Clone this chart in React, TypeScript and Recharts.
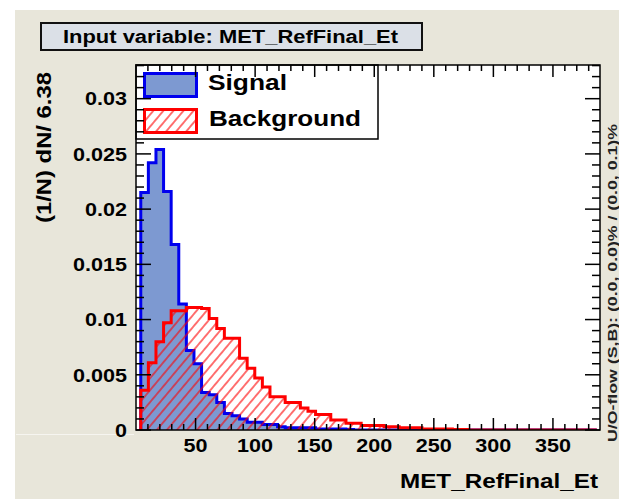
import { AreaChart, Area, XAxis, YAxis, ReferenceArea } from "recharts"

const FONT = '"Liberation Sans", Arial, Helvetica, sans-serif'
const CANVAS_BG = "#e8e6da"
const TITLE_BG = "#dbe0e7"
const SIG_FILL = "#7d99d1"
const SIG_LINE = "#0000ee"
const BKG_LINE = "#ff0000"

// MET_RefFinal_Et binning (60 bins of 6.38)
const BIN_START = 4
const BIN_WIDTH = 6.38
const X_MAX = 389.5
const Y_MAX = 0.03305

// normalised signal histogram, (1/N) dN / 6.38
const SIGNAL = [
  0.0215, 0.0242, 0.0254, 0.0216, 0.0168, 0.0114, 0.0072, 0.006, 0.0034, 0.0032,
  0.0025, 0.0015, 0.0013, 0.001, 0.0007, 0.0007, 0.0005, 0.0005, 0.0003, 0.0002,
  0.0002, 0.0002, 0.0002, 0.0001, 0.0001, 0.0001, 0.0001, 0.00005, 0, 0,
  0, 0, 0, 0, 0, 0, 0, 0, 0, 0,
  0, 0, 0, 0, 0, 0, 0, 0, 0, 0,
  0, 0, 0, 0, 0, 0, 0, 0, 0, 0,
]

// normalised background histogram
const BACKGROUND = [
  0.0036, 0.0061, 0.008, 0.0097, 0.0108, 0.0108, 0.0111, 0.0111, 0.011, 0.0101,
  0.0092, 0.0083, 0.0083, 0.0065, 0.0056, 0.0047, 0.0039, 0.003, 0.003, 0.0025,
  0.0025, 0.002, 0.0017, 0.0014, 0.0014, 0.0009, 0.0009, 0.0006, 0.0006, 0.0004,
  0.0004, 0.0004, 0.0003, 0.0003, 0.0002, 0.0002, 0.0002, 0.0001, 0.0001, 0.0001,
  0.0001, 0.00005, 0.00005, 0, 0, 0, 0, 0, 0, 0,
  0, 0, 0, 0, 0, 0, 0, 0, 0, 0,
]

const X_LABELS = [50, 100, 150, 200, 250, 300, 350]
const Y_LABELS = [0, 0.005, 0.01, 0.015, 0.02, 0.025, 0.03]

// minor ticks: every 10 on x, every 0.001 on y
const X_TICKS = Array.from({ length: 38 }, (_, i) => (i + 1) * 10)
const Y_TICKS = Array.from({ length: 34 }, (_, i) => i / 1000)

const PLOT = { left: 136, right: 600, top: 65, bottom: 430 }

// step outline closes down to zero at both ends of the histogram
const binEnd = BIN_START + SIGNAL.length * BIN_WIDTH
const data = [
  { x: BIN_START, sig: 0, bkg: 0 },
  ...SIGNAL.map((s, i) => ({ x: BIN_START + i * BIN_WIDTH, sig: s, bkg: BACKGROUND[i] })),
  { x: binEnd, sig: SIGNAL[SIGNAL.length - 1], bkg: BACKGROUND[BACKGROUND.length - 1] },
  { x: binEnd, sig: 0, bkg: 0 },
]

const labelWidth = (s: string) => s.replace(".", "").length * 12 + (s.includes(".") ? 6 : 0)

const labelStyle = { fontFamily: FONT, fontWeight: 700, fontSize: 19, fill: "#000" }

function XTick(props: any) {
  const { x, payload } = props
  const v = payload.value as number
  const major = X_LABELS.includes(v)
  const len = major ? 12 : 6
  const txt = String(v)
  return (
    <g>
      <line x1={x} x2={x} y1={PLOT.bottom} y2={PLOT.bottom - len} stroke="#000" strokeWidth={1.5} />
      <line x1={x} x2={x} y1={PLOT.top} y2={PLOT.top + len} stroke="#000" strokeWidth={1.5} />
      {major && (
        <text x={x} y={451.5} textAnchor="middle" textLength={labelWidth(txt)} lengthAdjust="spacingAndGlyphs" style={labelStyle}>
          {txt}
        </text>
      )}
    </g>
  )
}

function YTick(props: any) {
  const { y, payload } = props
  const v = payload.value as number
  const major = Y_LABELS.includes(v)
  const len = major ? 15 : 8
  const txt = v === 0 ? "0" : String(Number(v.toFixed(3)))
  return (
    <g>
      <line x1={PLOT.left} x2={PLOT.left + len} y1={y} y2={y} stroke="#000" strokeWidth={1.5} />
      <line x1={PLOT.right} x2={PLOT.right - len} y1={y} y2={y} stroke="#000" strokeWidth={1.5} />
      {major && (
        <text x={127} y={y + 6.8} textAnchor="end" textLength={labelWidth(txt)} lengthAdjust="spacingAndGlyphs" style={labelStyle}>
          {txt}
        </text>
      )}
    </g>
  )
}

export default function App() {
  return (
    <div style={{ position: "absolute", left: 0, top: 0, width: 619, height: 499, background: "#fff", overflow: "hidden" }}>
      <div style={{ position: "absolute", left: 15, top: 10, width: 604, height: 489, background: CANVAS_BG }} />
      <div
        style={{
          position: "absolute",
          left: 40,
          top: 22,
          width: 383,
          height: 29,
          boxSizing: "border-box",
          border: "2px solid #111",
          background: TITLE_BG,
        }}
      />
      <div
        style={{
          position: "absolute",
          left: PLOT.left,
          top: PLOT.top,
          width: PLOT.right - PLOT.left,
          height: PLOT.bottom - PLOT.top,
          background: "#fff",
        }}
      />
      <div style={{ position: "absolute", left: 0, top: 0 }}>
        <AreaChart width={619} height={499} data={data} margin={{ top: 65, right: 19, bottom: 39, left: 96 }}>
          <defs>
            <pattern id="bkgHatch" patternUnits="userSpaceOnUse" width={7.7} height={7.7} patternTransform="rotate(40)">
              <line x1={3.85} y1={0} x2={3.85} y2={7.7} stroke={BKG_LINE} strokeWidth={1.1} />
            </pattern>
          </defs>
          <XAxis
            dataKey="x"
            type="number"
            domain={[0, X_MAX]}
            allowDataOverflow
            ticks={X_TICKS}
            interval={0}
            height={30}
            tickSize={0}
            tickMargin={0}
            axisLine={false}
            tick={(p: any) => <XTick {...p} />}
          />
          <YAxis
            type="number"
            domain={[0, Y_MAX]}
            allowDataOverflow
            ticks={Y_TICKS}
            interval={0}
            width={40}
            tickSize={0}
            tickMargin={0}
            axisLine={false}
            tick={(p: any) => <YTick {...p} />}
          />
          <Area
            type="stepAfter"
            dataKey="sig"
            baseValue={0}
            stroke={SIG_LINE}
            strokeWidth={3}
            fill={SIG_FILL}
            fillOpacity={1}
            dot={false}
            activeDot={false}
            isAnimationActive={false}
          />
          <Area
            type="stepAfter"
            dataKey="bkg"
            baseValue={0}
            stroke={BKG_LINE}
            strokeWidth={3}
            fill="url(#bkgHatch)"
            fillOpacity={1}
            dot={false}
            activeDot={false}
            isAnimationActive={false}
          />
          <ReferenceArea x1={0} x2={X_MAX} y1={0} y2={Y_MAX} fill="none" stroke="#000" strokeWidth={1.5} ifOverflow="visible" />

          {/* legend */}
          <g>
            <rect x={136} y={65} width={242} height={74} fill="#fff" stroke="#000" strokeWidth={1.5} />
            <rect x={144.5} y={73.5} width={52} height={23} fill={SIG_FILL} stroke={SIG_LINE} strokeWidth={3} />
            <rect x={144.5} y={109.5} width={52} height={23} fill="#fff" />
            <rect x={144.5} y={109.5} width={52} height={23} fill="url(#bkgHatch)" stroke={BKG_LINE} strokeWidth={3} />
            <text x={208} y={90} textLength={79} lengthAdjust="spacingAndGlyphs" style={{ ...labelStyle, fontSize: 22 }}>
              Signal
            </text>
            <text x={209} y={126} textLength={152} lengthAdjust="spacingAndGlyphs" style={{ ...labelStyle, fontSize: 22 }}>
              Background
            </text>
          </g>

          {/* titles */}
          <text x={63} y={42.5} textLength={335} lengthAdjust="spacingAndGlyphs" style={{ ...labelStyle, fontSize: 18 }}>
            Input variable: MET_RefFinal_Et
          </text>
          <text x={598} y={488} textAnchor="end" textLength={198} lengthAdjust="spacingAndGlyphs" style={{ ...labelStyle, fontSize: 21 }}>
            MET_RefFinal_Et
          </text>
          <text
            transform="translate(51,72) rotate(-90)"
            textAnchor="end"
            textLength={151}
            lengthAdjust="spacingAndGlyphs"
            style={{ ...labelStyle, fontSize: 20 }}
          >
            (1/N) dN/ 6.38
          </text>
          <text
            transform="translate(617,442) rotate(-90)"
            textLength={318}
            lengthAdjust="spacingAndGlyphs"
            style={{ ...labelStyle, fontSize: 12, fill: "#222" }}
          >
            U/O-flow (S,B): (0.0, 0.0)% / (0.0, 0.1)%
          </text>
          <line x1={16} x2={134} y1={434.5} y2={434.5} stroke="#f6f5f0" strokeWidth={1} />
        </AreaChart>
      </div>
    </div>
  )
}
